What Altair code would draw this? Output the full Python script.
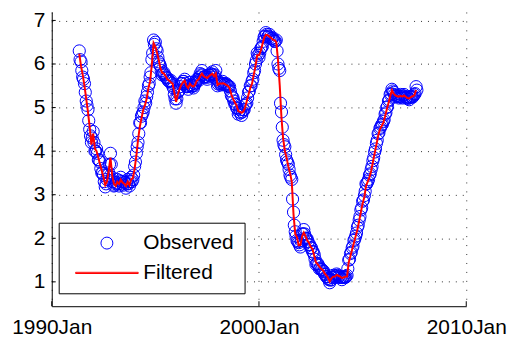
import altair as alt
import pandas as pd

# ---- data (May 1991 .. Aug 2007) ----
start_month = "1991-05-01"

# filtered series, one value per month (1st of month)
filtered = [
    6.24, 5.95, 5.75, 5.50, 5.20, 4.90, 4.55, 4.15,                      # 1991 May-Dec
    4.40, 4.05, 4.00, 3.85, 3.70, 3.55, 3.40, 3.22, 3.30, 3.55, 3.85, 3.45,  # 1992
    3.25, 3.20, 3.30, 3.25, 3.35, 3.28, 3.25, 3.20, 3.30, 3.22, 3.35, 3.38,  # 1993
    3.60, 3.90, 4.25, 4.55, 4.75, 4.95, 5.05, 5.20, 5.45, 5.60, 6.00, 6.48,  # 1994
    6.40, 6.25, 6.10, 5.90, 5.80, 5.78, 5.72, 5.65, 5.62, 5.58, 5.55, 5.35,  # 1995
    5.13, 5.30, 5.42, 5.52, 5.58, 5.62, 5.50, 5.45, 5.55, 5.50, 5.48, 5.52,  # 1996
    5.62, 5.65, 5.72, 5.78, 5.72, 5.70, 5.68, 5.72, 5.75, 5.78, 5.72, 5.78,  # 1997
    5.52, 5.55, 5.55, 5.56, 5.55, 5.52, 5.50, 5.45, 5.30, 5.20, 5.12, 5.05,  # 1998
    4.92, 4.90, 4.88, 4.91, 5.00, 5.15, 5.30, 5.45, 5.55, 5.75, 5.95, 6.20,  # 1999
    6.20, 6.30, 6.45, 6.60, 6.67, 6.66, 6.63, 6.60, 6.56, 6.55, 6.50, 6.10,  # 2000
    5.51, 4.76, 4.30, 4.01, 3.85, 3.65, 3.50, 3.30, 2.55, 2.10, 2.02, 1.84,  # 2001
    1.85, 2.05, 2.13, 2.05, 1.95, 1.90, 1.80, 1.75, 1.60, 1.45, 1.40, 1.35,  # 2002
    1.30, 1.27, 1.20, 1.15, 1.10, 1.01, 1.08, 1.12, 1.12, 1.16, 1.14, 1.12,  # 2003
    1.09, 1.10, 1.12, 1.12, 1.45, 1.60, 1.75, 1.90, 2.05, 2.20, 2.40, 2.60,  # 2004
    2.80, 2.95, 3.20, 3.30, 3.40, 3.55, 3.75, 3.95, 4.15, 4.35, 4.50, 4.57,  # 2005
    4.65, 4.80, 4.95, 5.10, 5.25, 5.40, 5.32, 5.28, 5.26, 5.25, 5.27, 5.25,  # 2006
    5.28, 5.25, 5.22, 5.21, 5.24, 5.26, 5.28, 5.40,                      # 2007 Jan-Aug
]

# observed values on the 1st of each month
observed_start = [
    6.30, 6.05, 5.70, 5.55, 5.15, 4.95, 4.50, 4.20,
    4.45, 4.00, 4.05, 3.80, 3.75, 3.50, 3.45, 3.18, 3.35, 3.50, 3.95, 3.40,
    3.20, 3.25, 3.35, 3.20, 3.40, 3.25, 3.30, 3.15, 3.35, 3.20, 3.40, 3.35,
    3.65, 3.95, 4.20, 4.65, 4.80, 4.90, 5.15, 5.25, 5.50, 5.70, 6.10, 6.55,
    6.50, 6.30, 6.05, 5.95, 5.75, 5.80, 5.70, 5.68, 5.60, 5.62, 5.50, 5.30,
    5.10, 5.35, 5.40, 5.55, 5.60, 5.65, 5.48, 5.42, 5.58, 5.48, 5.45, 5.55,
    5.65, 5.62, 5.78, 5.85, 5.70, 5.72, 5.65, 5.75, 5.78, 5.82, 5.70, 5.85,
    5.50, 5.58, 5.52, 5.60, 5.52, 5.55, 5.50, 5.48, 5.28, 5.22, 5.08, 5.00,
    4.85, 4.95, 4.82, 4.95, 5.05, 5.10, 5.35, 5.50, 5.60, 5.80, 6.00, 6.25,
    6.15, 6.35, 6.40, 6.62, 6.72, 6.62, 6.68, 6.58, 6.60, 6.52, 6.55, 6.00,
    5.85, 4.90, 4.25, 4.10, 3.80, 3.70, 3.45, 3.35, 2.60, 2.15, 1.95, 1.90,
    1.80, 2.10, 2.20, 2.00, 1.98, 1.85, 1.78, 1.70, 1.62, 1.40, 1.42, 1.30,
    1.28, 1.25, 1.18, 1.12, 1.08, 0.98, 1.05, 1.15, 1.10, 1.18, 1.12, 1.10,
    1.05, 1.12, 1.10, 1.15, 1.50, 1.65, 1.78, 1.95, 2.05, 2.25, 2.42, 2.65,
    2.85, 2.98, 3.25, 3.30, 3.45, 3.58, 3.78, 3.98, 4.18, 4.40, 4.52, 4.60,
    4.68, 4.85, 5.00, 5.15, 5.30, 5.42, 5.35, 5.25, 5.28, 5.22, 5.30, 5.22,
    5.30, 5.22, 5.25, 5.18, 5.26, 5.24, 5.30, 5.48,
]

# observed values in the middle of each month
observed_mid = [
    6.10, 5.85, 5.65, 5.35, 5.05, 4.70, 4.35, 4.30,
    4.20, 4.00, 3.95, 3.80, 3.60, 3.50, 3.30, 3.25, 3.45, 3.70, 3.70, 3.30,
    3.22, 3.28, 3.25, 3.32, 3.30, 3.22, 3.28, 3.25, 3.25, 3.30, 3.30, 3.45,
    3.75, 4.10, 4.40, 4.65, 4.85, 5.00, 5.10, 5.35, 5.55, 5.80, 6.25, 6.45,
    6.35, 6.15, 6.00, 5.85, 5.78, 5.75, 5.68, 5.62, 5.60, 5.56, 5.45, 5.20,
    5.20, 5.38, 5.48, 5.55, 5.60, 5.55, 5.48, 5.50, 5.52, 5.50, 5.50, 5.58,
    5.64, 5.70, 5.75, 5.75, 5.70, 5.70, 5.70, 5.74, 5.76, 5.75, 5.75, 5.65,
    5.54, 5.55, 5.56, 5.55, 5.54, 5.52, 5.48, 5.38, 5.25, 5.15, 5.08, 4.98,
    4.90, 4.88, 4.90, 4.95, 5.08, 5.22, 5.38, 5.50, 5.65, 5.85, 6.08, 6.20,
    6.25, 6.38, 6.52, 6.64, 6.68, 6.64, 6.62, 6.58, 6.55, 6.52, 6.30, 5.90,
    5.10, 4.55, 4.15, 3.92, 3.75, 3.58, 3.40, 2.90, 2.30, 2.05, 1.92, 1.85,
    1.95, 2.10, 2.10, 2.00, 1.92, 1.85, 1.78, 1.68, 1.52, 1.42, 1.38, 1.32,
    1.28, 1.24, 1.17, 1.12, 1.05, 1.04, 1.10, 1.12, 1.14, 1.15, 1.13, 1.10,
    1.10, 1.11, 1.12, 1.30, 1.52, 1.68, 1.82, 1.98, 2.12, 2.30, 2.50, 2.70,
    2.88, 3.08, 3.25, 3.35, 3.48, 3.65, 3.85, 4.05, 4.25, 4.42, 4.55, 4.62,
    4.72, 4.88, 5.02, 5.18, 5.32, 5.38, 5.30, 5.27, 5.25, 5.26, 5.25, 5.27,
    5.25, 5.23, 5.21, 5.23, 5.25, 5.27, 5.32, 5.40,
]

series_names = ["Observed", "Filtered"]
series_colors = ["#0000ff", "#ff0000"]
y_ticks = [1, 2, 3, 4, 5, 6, 7]
x_tick_years = [1990, 2000, 2010]
x_tick_dates = ["1990-01-01", "2000-01-01", "2010-01-01"]

# ---- tables ----
month_starts = pd.date_range(start_month, periods=len(filtered), freq="MS")
mid_months = month_starts + pd.Timedelta(days=14)
obs_df = pd.concat([
    pd.DataFrame({"date": month_starts, "value": observed_start}),
    pd.DataFrame({"date": mid_months, "value": observed_mid}),
]).sort_values("date")
obs_df["series"] = "Observed"
fil_df = pd.DataFrame({"date": month_starts, "value": filtered, "series": "Filtered"})
ytick_df = pd.DataFrame({"value": y_ticks})
xtick_df = pd.DataFrame({"date": pd.to_datetime(x_tick_dates)})

W, H = 417, 296
FONT = "Liberation Sans"
FS = 21

x_scale = alt.Scale(domain=[alt.DateTime(year=x_tick_years[0], month=1, date=1),
                            alt.DateTime(year=x_tick_years[-1], month=1, date=1)])
y_scale = alt.Scale(domain=[0.441, 7.194], nice=False, zero=False)

x_axis = alt.Axis(values=[alt.DateTime(year=y, month=1, date=1) for y in x_tick_years],
                  format="%Y%b", title=None, grid=True, gridDash=[1, 8],
                  gridColor="#333333", gridWidth=1, ticks=False, tickSize=0,
                  labelFontSize=FS, labelFont=FONT, labelColor="black",
                  labelPadding=10, labelFlush=False, labelOverlap=False,
                  domainColor="black", domainWidth=1)
y_axis = alt.Axis(values=y_ticks, format="d", title=None, grid=True, gridDash=[1, 6],
                  gridColor="#333333", gridWidth=1, ticks=False, tickSize=0,
                  labelFontSize=FS, labelFont=FONT, labelColor="black",
                  labelPadding=7, labelOverlap=False,
                  domainColor="black", domainWidth=1)

LINE_PATH = "M-5.25,-0.1H5.25V0.1H-5.25Z"

legend = alt.Legend(title=None, orient="none", legendX=7, legendY=212,
                    labelFontSize=FS, labelFont=FONT, labelColor="black",
                    symbolSize=144, symbolStrokeWidth=1, symbolOffset=28,
                    labelOffset=26, padding=10, rowPadding=8,
                    strokeColor="black", fillColor="white", cornerRadius=0)

color = alt.Color("series:N", scale=alt.Scale(domain=series_names, range=series_colors),
                  legend=legend)
shape = alt.Shape("series:N", scale=alt.Scale(domain=series_names, range=["circle", LINE_PATH]),
                  legend=legend)

points = alt.Chart(obs_df).mark_point(filled=False, size=150, strokeWidth=1, opacity=1).encode(
    x=alt.X("date:T", scale=x_scale, axis=x_axis),
    y=alt.Y("value:Q", scale=y_scale, axis=y_axis),
    color=color,
    shape=shape,
)

line = alt.Chart(fil_df).mark_line(strokeWidth=2).encode(
    x=alt.X("date:T", scale=x_scale, axis=x_axis),
    y=alt.Y("value:Q", scale=y_scale, axis=y_axis),
    color=color,
)

yticks = alt.Chart(ytick_df).mark_rule(color="black", strokeWidth=1).encode(
    y=alt.Y("value:Q", scale=y_scale, axis=y_axis),
    x=alt.value(0), x2=alt.value(4),
)

xticks = alt.Chart(xtick_df).mark_rule(color="black", strokeWidth=1).encode(
    x=alt.X("date:T", scale=x_scale, axis=x_axis),
    y=alt.value(H - 5), y2=alt.value(H),
)

chart = alt.layer(yticks, xticks, points, line).properties(
    width=W, height=H,
    autosize=alt.AutoSizeParams(type="none"),
    padding={"left": 44, "top": 3, "right": 42, "bottom": 34},
    background="white",
).configure_view(stroke=None)

chart.save("out.html", embed_options={"renderer": "svg", "actions": False})
